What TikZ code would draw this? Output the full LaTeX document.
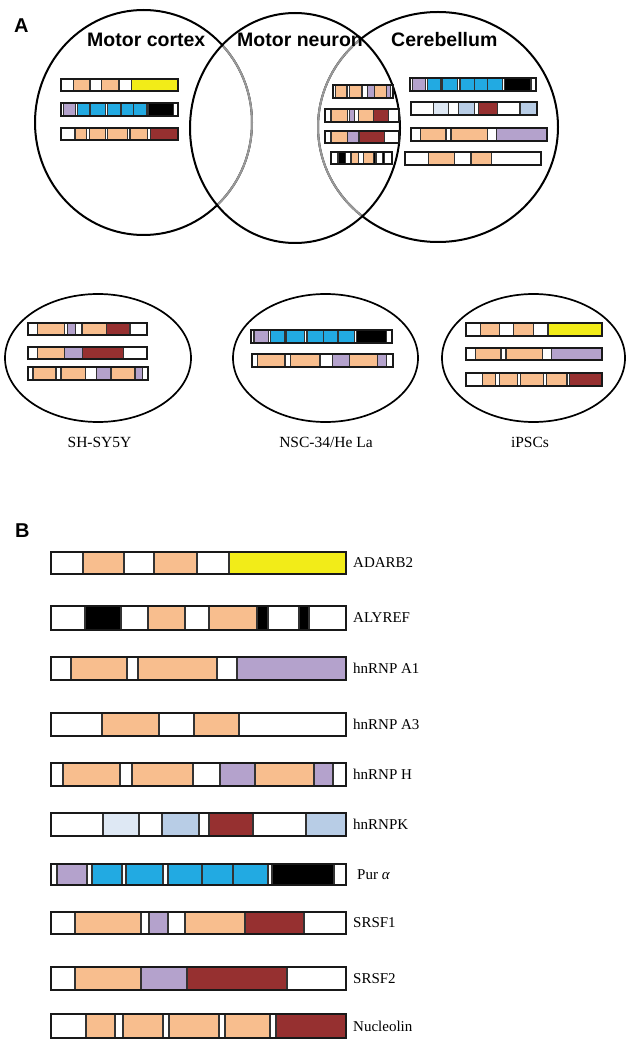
\documentclass[tikz,border=0pt]{standalone}
\usepackage{fontspec}
\setmainfont{Liberation Serif}
\newfontfamily\arialf{Liberation Sans}
\definecolor{cOr}{RGB}{248,190,142}
\definecolor{cYe}{RGB}{242,236,24}
\definecolor{cPu}{RGB}{180,162,204}
\definecolor{cBl}{RGB}{34,170,226}
\definecolor{cDr}{RGB}{150,48,48}
\definecolor{cLa}{RGB}{222,232,244}
\definecolor{cLb}{RGB}{184,205,230}
% protein patterns (segment start/end in panel-B pixel coordinates, 51..346)
\def\pADARB{51/83/white,83/124/cOr,124/154/white,154/197/cOr,197/229/white,229/346/cYe}
\def\pALY{51/85/white,85/121/black,121/148/white,148/185/cOr,185/209/white,209/257/cOr,257/268/black,268/299/white,299/309/black,309/346/white}
\def\pAone{51/71/white,71/127/cOr,127/138/white,138/217/cOr,217/237/white,237/346/cPu}
\def\pAthree{51/102/white,102/159/cOr,159/194/white,194/239/cOr,239/346/white}
\def\pH{51/63/white,63/120/cOr,120/132/white,132/193/cOr,193/220/white,220/255/cPu,255/314/cOr,314/333/cPu,333/346/white}
\def\pK{51/103/white,103/139/cLa,139/162/white,162/199/cLb,199/209/white,209/253/cDr,253/306/white,306/346/cLb}
\def\pPur{51/57/white,57/87/cPu,87/92/white,92/122/cBl,122/126/white,126/163/cBl,163/168/white,168/202/cBl,202/233/cBl,233/268/cBl,268/272/white,272/334/black,334/346/white}
\def\pSone{51/75/white,75/141/cOr,141/149/white,149/168/cPu,168/185/white,185/245/cOr,245/304/cDr,304/346/white}
\def\pStwo{51/75/white,75/141/cOr,141/187/cPu,187/287/cDr,287/346/white}
\def\pNuc{51/86/white,86/115/cOr,115/123/white,123/163/cOr,163/169/white,169/219/cOr,219/225/white,225/270/cOr,270/276/white,276/346/cDr}
% #1 x0, #2 x1, #3 y top, #4 y bottom, #5 pattern, #6 outer line width
\newcommand\drawbar[6]{%
  \pgfmathsetmacro\barsc{(#2-#1)/295}%
  \foreach \a/\b/\c in #5 {%
    \filldraw[fill=\c, draw=black!80, line width=0.7*#6]
      ({#1+(\a-51)*\barsc},#3) rectangle ({#1+(\b-51)*\barsc},#4);
  }%
  \draw[black!90, line width=#6] (#1,#3) rectangle (#2,#4);
}
\begin{document}
\begin{tikzpicture}[x=1pt,y=-1pt,
  venn/.style={draw=black, line width=2pt},
  venngray/.style={draw=black!40, line width=2pt},
  cell/.style={draw=black, line width=1.7pt},
  vlabel/.style={font=\arialf\bfseries\fontsize{19.5}{22}\selectfont, inner sep=0pt, anchor=base west},
  panel/.style={font=\arialf\bfseries\fontsize{20}{22}\selectfont, inner sep=0pt, anchor=base west},
  clabel/.style={font=\fontsize{15.5}{18}\selectfont, inner sep=0pt, anchor=base},
  plabel/.style={font=\fontsize{15}{18}\selectfont, inner sep=0pt, anchor=west}]
\useasboundingbox (0,0) rectangle (638,1064);
\fill[white] (0,0) rectangle (638,1064);

% ---------- Panel A: Venn ----------
\node[panel] (lA) at (14,33) {A};
\draw[venn] (143.5,122.5) ellipse [x radius=108.5pt, y radius=112.5pt];
\draw[venn] (438,127) ellipse [x radius=120pt, y radius=115pt];
\begin{scope}
  \clip (295,128) ellipse [x radius=104pt, y radius=114pt];
  \draw[venngray] (143.5,122.5) ellipse [x radius=108.5pt, y radius=112.5pt];
  \draw[venngray] (438,127) ellipse [x radius=120pt, y radius=115pt];
\end{scope}
\draw[venn] (295,128) ellipse [x radius=105pt, y radius=115pt];

\node[vlabel] (lmc) at (87,47) {Motor cortex};
\node[vlabel] (lmn) at (237,47) {Motor neuron};
\node[vlabel] (lce) at (391,47) {Cerebellum};

% motor cortex
\drawbar{61}{178}{79}{91}{\pADARB}{1.8pt}
\drawbar{61}{178}{103}{116}{\pPur}{1.8pt}
\drawbar{61}{178}{128}{140}{\pNuc}{1.8pt}
% intersection
\drawbar{333}{393}{85}{98}{\pH}{1.8pt}
\drawbar{325}{399}{109}{122}{\pSone}{1.8pt}
\drawbar{325}{399}{131}{143}{\pStwo}{1.8pt}
\drawbar{331}{392}{152}{164}{\pALY}{1.8pt}
% cerebellum
\drawbar{410}{536}{78}{91}{\pPur}{1.8pt}
\drawbar{411}{537}{102}{115}{\pK}{1.8pt}
\drawbar{411}{547}{128}{141}{\pAone}{1.8pt}
\drawbar{405}{541}{152}{165}{\pAthree}{1.8pt}

% ---------- cell lines ----------
\draw[cell] (98,358) ellipse [x radius=93pt, y radius=64pt];
\draw[cell] (325.5,358) ellipse [x radius=92.5pt, y radius=64pt];
\draw[cell] (533.5,358) ellipse [x radius=91.5pt, y radius=64pt];

\drawbar{28}{147}{323}{335}{\pSone}{1.8pt}
\drawbar{28}{147}{347}{359}{\pStwo}{1.8pt}
\drawbar{28}{148}{367}{380}{\pH}{1.8pt}

\drawbar{251}{392}{330}{343}{\pPur}{1.8pt}
\drawbar{252}{393}{354}{367}{\pH}{1.8pt}

\drawbar{466}{602}{323}{336}{\pADARB}{1.8pt}
\drawbar{466}{602}{348}{360}{\pAone}{1.8pt}
\drawbar{466}{602}{373}{386}{\pNuc}{1.8pt}

\node[clabel] (lsh) at (99.5,447) {SH-SY5Y};
\node[clabel] (lnsc) at (326,447) {NSC-34/He La};
\node[clabel] (lips) at (530,447) {iPSCs};

% ---------- Panel B ----------
\node[panel] (lB) at (15,537) {B};
\drawbar{51}{346}{552}{574}{\pADARB}{2pt}
\drawbar{51}{346}{606}{630}{\pALY}{2pt}
\drawbar{51}{346}{657}{680}{\pAone}{2pt}
\drawbar{51}{346}{713}{736}{\pAthree}{2pt}
\drawbar{51}{346}{763}{786}{\pH}{2pt}
\drawbar{51}{346}{813}{836}{\pK}{2pt}
\drawbar{51}{346}{864}{885}{\pPur}{2pt}
\drawbar{51}{346}{912}{934}{\pSone}{2pt}
\drawbar{51}{346}{967}{990}{\pStwo}{2pt}
\drawbar{51}{346}{1014}{1038}{\pNuc}{2pt}

\node[plabel] (tADARB) at (353,563) {ADARB2};
\node[plabel] (tALY) at (353,618) {ALYREF};
\node[plabel] (tA1) at (353,668.5) {hnRNP A1};
\node[plabel] (tA3) at (353,724.5) {hnRNP A3};
\node[plabel] (tH) at (353,774.5) {hnRNP H};
\node[plabel] (tK) at (353,824.5) {hnRNPK};
\node[plabel] (tPur) at (357,874.5) {Pur \textit{α}};
\node[plabel] (tS1) at (353,923) {SRSF1};
\node[plabel] (tS2) at (353,978.5) {SRSF2};
\node[plabel] (tNuc) at (353,1026) {Nucleolin};
\end{tikzpicture}
\end{document}
